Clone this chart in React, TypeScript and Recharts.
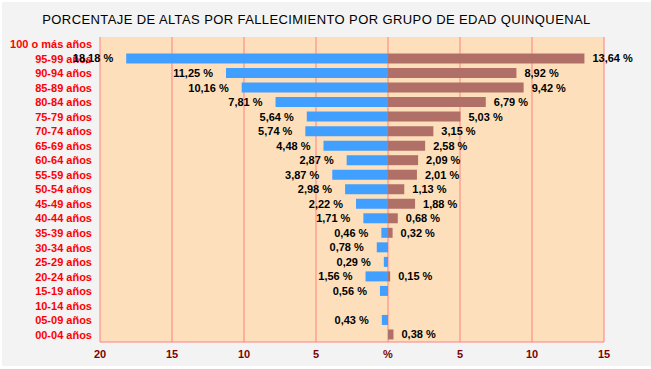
import React from 'react';
import { BarChart, Bar, XAxis, YAxis, CartesianGrid, LabelList } from 'recharts';

const categories = [
  '100 o más años', '95-99 años', '90-94 años', '85-89 años', '80-84 años',
  '75-79 años', '70-74 años', '65-69 años', '60-64 años', '55-59 años',
  '50-54 años', '45-49 años', '40-44 años', '35-39 años', '30-34 años',
  '25-29 años', '20-24 años', '15-19 años', '10-14 años', '05-09 años', '00-04 años',
];
const maleValues = [0, 18.18, 11.25, 10.16, 7.81, 5.64, 5.74, 4.48, 2.87, 3.87, 2.98, 2.22, 1.71, 0.46, 0.78, 0.29, 1.56, 0.56, 0, 0.43, 0];
const femaleValues = [0, 13.64, 8.92, 9.42, 6.79, 5.03, 3.15, 2.58, 2.09, 2.01, 1.13, 1.88, 0.68, 0.32, 0, 0, 0.15, 0, 0, 0, 0.38];
const xTicks = [-20, -15, -10, -5, 0, 5, 10, 15];
const title = 'PORCENTAJE DE ALTAS POR FALLECIMIENTO POR GRUPO DE EDAD QUINQUENAL';

const data = categories.map((c, i) => ({ cat: c, male: -maleValues[i], female: femaleValues[i] }));

const FONT = "'Liberation Sans', Arial, sans-serif";
const fmt = (v: number) => v.toFixed(2).replace('.', ',') + ' %';

const MaleLabel = (props: any) => {
  const vb = props.viewBox || props;
  const v = Math.abs(Number(props.value));
  if (!v) return null;
  const left = Math.min(vb.x, vb.x + vb.width);
  return (
    <text x={left - 13} y={vb.y + vb.height / 2} dy="0.36em" textAnchor="end"
      fontFamily={FONT} fontSize={11} fontWeight="bold" fill="#000">{fmt(v)}</text>
  );
};

const FemaleLabel = (props: any) => {
  const vb = props.viewBox || props;
  const v = Math.abs(Number(props.value));
  if (!v) return null;
  const right = Math.max(vb.x, vb.x + vb.width);
  return (
    <text x={right + 8} y={vb.y + vb.height / 2} dy="0.36em" textAnchor="start"
      fontFamily={FONT} fontSize={11} fontWeight="bold" fill="#000">{fmt(v)}</text>
  );
};

export default function App() {
  return (
    <div style={{ position: 'relative', width: 651, height: 369, background: '#ffffff', overflow: 'hidden' }}>
      <style>{`body{margin:0}`}</style>
      <div style={{ position: 'absolute', left: 2, top: 2, width: 649, height: 364, background: '#f3f3f3' }} />
      <div style={{
        position: 'absolute', left: 0, top: 13, width: 633, textAlign: 'center',
        fontFamily: FONT, fontSize: 13, lineHeight: '14px', letterSpacing: 0.4, color: '#000',
        whiteSpace: 'nowrap',
      }}>{title}</div>
      <div style={{ position: 'absolute', left: 0, top: 0 }}>
        <BarChart width={651} height={369} data={data} layout="vertical" stackOffset="sign"
          margin={{ top: 37, right: 47, bottom: 0, left: 0 }} barSize={10}>
          <CartesianGrid horizontal={false} vertical={true} stroke="#ff8080" fill="#fde0bb" strokeWidth={1} />
          <XAxis type="number" domain={[-20, 15]} ticks={xTicks} allowDataOverflow
            height={27} tickLine={false} axisLine={{ stroke: '#ff8080' }}
            tickFormatter={(v: number) => (v === 0 ? '%' : String(Math.abs(v)))}
            tick={{ fill: '#800000', fontSize: 11, fontWeight: 'bold', fontFamily: FONT }} />
          <YAxis type="category" dataKey="cat" width={100} tickLine={false} axisLine={false}
            interval={0}
            tick={{ fill: '#ff0000', fontSize: 11, fontWeight: 'bold', fontFamily: FONT }} />
          <Bar dataKey="male" stackId="a" fill="#409fff" isAnimationActive={false}>
            <LabelList dataKey="male" content={MaleLabel} />
          </Bar>
          <Bar dataKey="female" stackId="a" fill="#b07068" isAnimationActive={false}>
            <LabelList dataKey="female" content={FemaleLabel} />
          </Bar>
        </BarChart>
      </div>
    </div>
  );
}
